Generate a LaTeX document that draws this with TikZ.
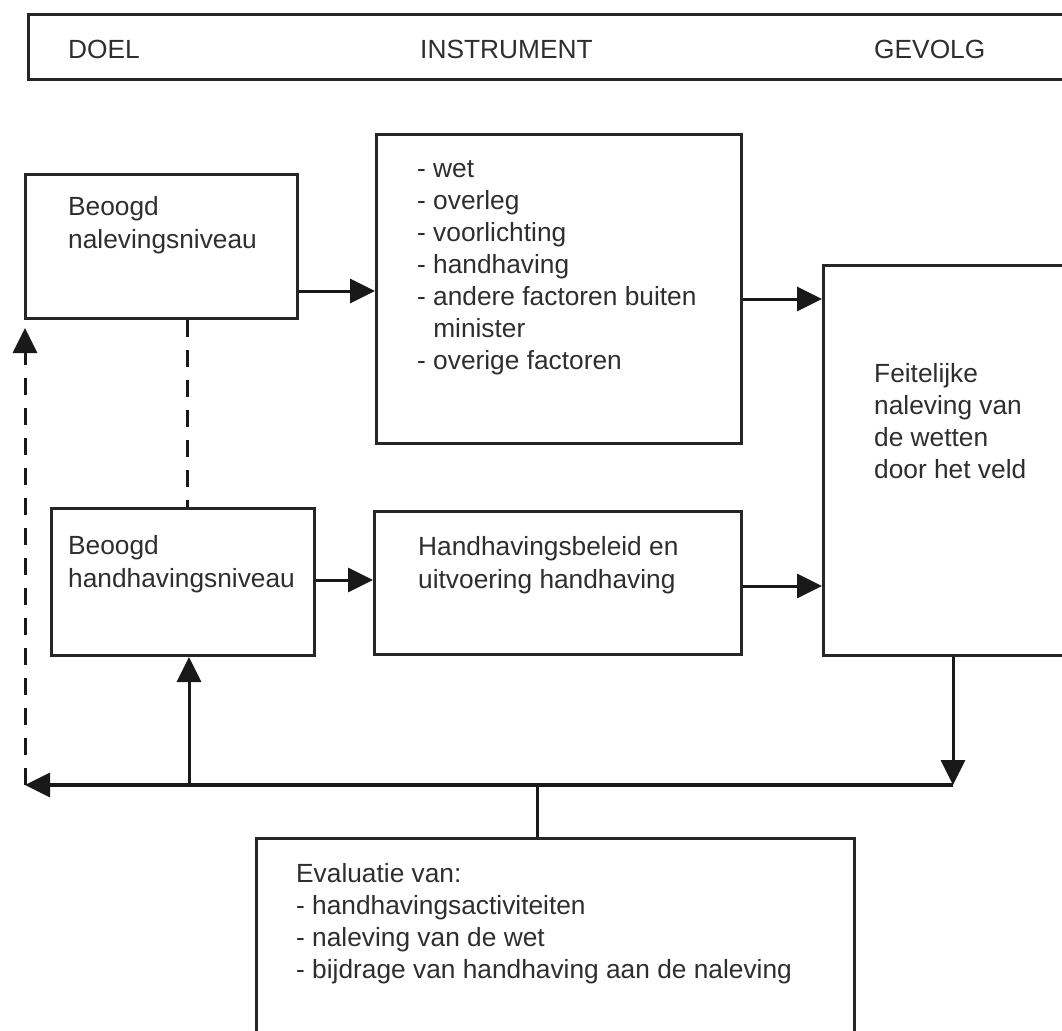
\documentclass[tikz,border=0pt]{standalone}
\usepackage{fontspec}
\setmainfont{Liberation Sans}
\usetikzlibrary{arrows.meta}
\begin{document}
\begin{tikzpicture}[x=1pt,y=-1pt,
  box/.style={draw=black!85, line width=3pt, inner sep=0pt, anchor=north west},
  conn/.style={draw=black!90, line width=3pt},
  tip/.style={-{Triangle[length=25pt,width=24pt]}},
  arr/.style={conn, tip},
  dashline/.style={conn, dash pattern=on 17pt off 13pt},
  lbl/.style={anchor=base west, inner sep=0pt, text=black!82, font=\fontsize{26.3}{32}\selectfont},
  lblw/.style={lbl, font=\fontsize{26.3}{33}\selectfont}]
\useasboundingbox (0,0) rectangle (1062,1030);
\fill[white] (0,0) rectangle (1062,1030);
\clip (0,0) rectangle (1062,1030);

% header
\node[box, minimum width=1048pt, minimum height=65pt] (head) at (27,13) {};
\node[lbl] (hDoel) at (68,59) {DOEL};
\node[lbl] (hInst) at (420,59) {INSTRUMENT};
\node[lbl] (hGev) at (874,59) {GEVOLG};

% boxes
\node[box, minimum width=272pt, minimum height=144pt] (A) at (24,173) {};
\node[lblw] (At) at (68,215) {\begin{tabular}[t]{@{}l@{}}Beoogd\\nalevingsniveau\end{tabular}};

\node[box, minimum width=365pt, minimum height=309pt] (B) at (375,133) {};
\node[lbl] (Bt) at (417,177) {\begin{tabular}[t]{@{}l@{}}- wet\\- overleg\\- voorlichting\\- handhaving\\- andere factoren buiten\\\hphantom{- }minister\\- overige factoren\end{tabular}};

\node[box, minimum width=253pt, minimum height=390pt] (C) at (822,264) {};
\node[lbl] (Ct) at (874,382) {\begin{tabular}[t]{@{}l@{}}Feitelijke\\naleving van\\de wetten\\door het veld\end{tabular}};

\node[box, minimum width=263pt, minimum height=147pt] (D) at (50,507) {};
\node[lblw] (Dt) at (68,554) {\begin{tabular}[t]{@{}l@{}}Beoogd\\handhavingsniveau\end{tabular}};

\node[box, minimum width=367pt, minimum height=143pt] (E) at (373,510) {};
\node[lblw] (Et) at (418,555) {\begin{tabular}[t]{@{}l@{}}Handhavingsbeleid en\\uitvoering handhaving\end{tabular}};

\node[box, minimum width=598pt, minimum height=215pt] (F) at (255,837) {};
\node[lbl] (Ft) at (296,882) {\begin{tabular}[t]{@{}l@{}}Evaluatie van:\\- handhavingsactiviteiten\\- naleving van de wet\\- bijdrage van handhaving aan de naleving\end{tabular}};

% helper coordinates
\coordinate (yAB) at (0,291);
\coordinate (yBC) at (0,299);
\coordinate (yDE) at (0,580);
\coordinate (yEC) at (0,586);
\coordinate (xAD) at (187,0);
\coordinate (busR) at (953,785);
\coordinate (busL) at (25,785);
\coordinate (busUp) at (189,785);
\coordinate (busM) at (537,785);
\coordinate (dashTip) at (25,328);

% connectors
\draw[arr] (A.east |- yAB) -- (B.west |- yAB);
\draw[arr] (B.east |- yBC) -- (C.west |- yBC);
\draw[arr] (D.east |- yDE) -- (E.west |- yDE);
\draw[arr] (E.east |- yEC) -- (C.west |- yEC);
\draw[dashline] (A.south -| xAD) -- (D.north -| xAD);
\draw[arr] (C.south -| busR) -- (busR);
\draw[arr, line width=3.4pt] (busR) -- (busL);
\draw[arr] (busUp) -- (D.south -| busUp);
\draw[dashline, tip] (busL) -- (dashTip);
\draw[conn] (busM) -- (F.north -| busM);
\end{tikzpicture}
\end{document}
